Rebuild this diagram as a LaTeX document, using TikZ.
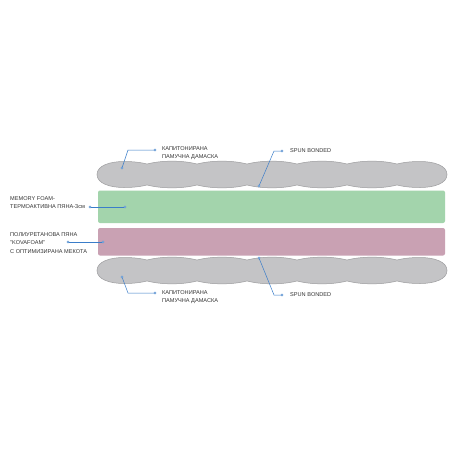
\documentclass[tikz,border=0pt]{standalone}
\usepackage{fontspec}
\setmainfont{Liberation Sans}
\definecolor{quiltfill}{HTML}{C4C4C6}
\definecolor{quiltline}{HTML}{9C9C9E}
\definecolor{foamgreen}{HTML}{A3D4AC}
\definecolor{foampink}{HTML}{C9A1B3}
\definecolor{leader}{HTML}{3A7DC9}
\definecolor{txt}{HTML}{333333}
\tikzset{
  quilt/.style={fill=quiltfill,draw=quiltline,line width=0.5pt},
  layerbox/.style={rounded corners=2pt},
  lbl/.style={anchor=west,inner sep=0pt,align=left,text=txt,font=\fontsize{5.6}{8.5}\selectfont},
  lead/.style={draw=leader,line width=0.5pt},
  pin/.style={circle,draw=leader,fill=white,line width=0.4pt,inner sep=0pt,minimum size=2.4pt},
}
\newcommand\quiltlayer[1]{%
  \begin{scope}[shift={(0,#1)}]
  \path[quilt] (97,0) .. controls (97,-9) and (110,-13) .. (124,-13)
     .. controls (134,-13) and (141,-12) .. (147,-10.5)
     \foreach \x in {147,197,247,297,347}{ .. controls ({\x+15},-14.3) and ({\x+35},-14.3) .. ({\x+50},-10.5)}
     .. controls (403,-12) and (410,-13) .. (420,-13)
     .. controls (434,-13) and (447,-9) .. (447,0)
     .. controls (447,9) and (434,13) .. (420,13)
     .. controls (410,13) and (403,12) .. (397,10.5)
     \foreach \x in {397,347,297,247,197}{ .. controls ({\x-15},14.3) and ({\x-35},14.3) .. ({\x-50},10.5)}
     .. controls (141,12) and (134,13) .. (124,13)
     .. controls (110,13) and (97,9) .. (97,0) -- cycle;
  \end{scope}}
\begin{document}
\begin{tikzpicture}[x=1pt,y=-1pt]
\useasboundingbox (0,0) rectangle (452,452);
\fill[white] (0,0) rectangle (452,452);
% layers
\quiltlayer{174.5}
\fill[foamgreen,layerbox] (98,190.5) rectangle (445,223);
\fill[foampink,layerbox] (98,228) rectangle (445,255.5);
\quiltlayer{270.5}
% labels
\node[lbl] (lblTopQuilt) at (162,153) {КАПИТОНИРАНА\\ПАМУЧНА ДАМАСКА};
\node[lbl] (lblTopSpun) at (290,151) {SPUN BONDED};
\node[lbl] (lblMemory) at (10,202.5) {MEMORY FOAM-\\ТЕРМОАКТИВНА ПЯНА-3см};
\node[lbl] (lblPU) at (10,243) {ПОЛИУРЕТАНОВА ПЯНА\\"KOVAFOAM"\\С ОПТИМИЗИРАНА МЕКОТА};
\node[lbl] (lblBotQuilt) at (162,297) {КАПИТОНИРАНА\\ПАМУЧНА ДАМАСКА};
\node[lbl] (lblBotSpun) at (290,295) {SPUN BONDED};
% leader points
\coordinate (c1) at (128,150);
\coordinate (c2) at (274,151);
\coordinate (c5) at (128,293);
\coordinate (c6) at (274,295);
\draw[lead] (122,168) coordinate (d1) -- (c1) -- (155,150) coordinate (e1);
\draw[lead] (259,186) coordinate (d2) -- (c2) -- (282,151) coordinate (e2);
\draw[lead] (90,207) coordinate (e3) -- (125,207) coordinate (d3);
\draw[lead] (68,242) coordinate (e4) -- (103,242) coordinate (d4);
\draw[lead] (122,277) coordinate (d5) -- (c5) -- (155,293) coordinate (e5);
\draw[lead] (259,258) coordinate (d6) -- (c6) -- (282,295) coordinate (e6);
\foreach \p in {d1,e1,d2,e2,d3,e3,d4,e4,d5,e5,d6,e6}{\node[pin] (pin\p) at (\p) {};}
\end{tikzpicture}
\end{document}
